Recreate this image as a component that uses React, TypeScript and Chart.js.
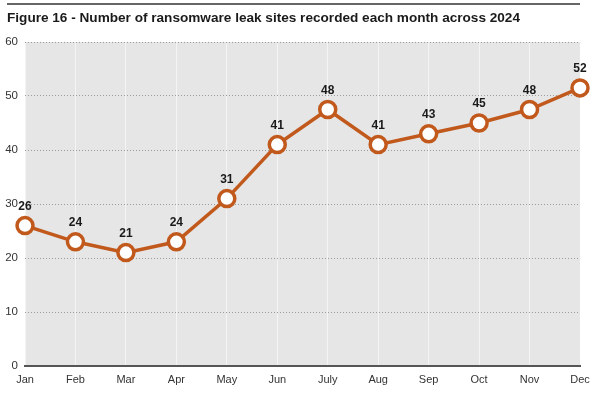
import React, { useEffect, useRef } from "react";
import { Chart, registerables } from "chart.js";

Chart.register(...registerables);

const TITLE = "Figure 16 - Number of ransomware leak sites recorded each month across 2024";
const months = ["Jan", "Feb", "Mar", "Apr", "May", "Jun", "July", "Aug", "Sep", "Oct", "Nov", "Dec"];
// plotted positions
const plotted = [26, 23, 21, 23, 31, 41, 47.5, 41, 43, 45, 47.5, 51.5];
// values printed above each point
const labels = [26, 24, 21, 24, 31, 41, 48, 41, 43, 45, 48, 52];
const yTicks = [0, 10, 20, 30, 40, 50, 60];

const ORANGE = "#c2591c";
const FONT = "'Liberation Sans', Arial, sans-serif";

const decorPlugin = {
  id: "decor",
  beforeDraw(chart: any) {
    const { ctx, chartArea } = chart;
    ctx.save();
    ctx.fillStyle = "#ffffff";
    ctx.fillRect(0, 0, chart.width, chart.height);
    ctx.fillStyle = "#e6e6e6";
    ctx.fillRect(chartArea.left, chartArea.top, chartArea.right - chartArea.left, chartArea.bottom - chartArea.top);
    // top rule
    ctx.strokeStyle = "#333333";
    ctx.lineWidth = 1.5;
    ctx.beginPath();
    ctx.moveTo(7, 4);
    ctx.lineTo(580, 4);
    ctx.stroke();
    // title
    ctx.fillStyle = "#1a1a1a";
    ctx.font = `bold 13.6px ${FONT}`;
    ctx.textAlign = "left";
    ctx.textBaseline = "alphabetic";
    ctx.fillText(TITLE, 7, 22);
    ctx.restore();
  },
  afterDatasetsDraw(chart: any) {
    const { ctx } = chart;
    const meta = chart.getDatasetMeta(0);
    ctx.save();
    ctx.fillStyle = "#1a1a1a";
    ctx.font = `bold 12px ${FONT}`;
    ctx.textAlign = "center";
    ctx.textBaseline = "middle";
    meta.data.forEach((pt: any, i: number) => {
      ctx.fillText(String(labels[i]), pt.x, pt.y - 19);
    });
    ctx.restore();
  },
};

export default function App() {
  const ref = useRef<HTMLCanvasElement | null>(null);
  useEffect(() => {
    document.body.style.margin = "0";
    const chart = new Chart(ref.current as HTMLCanvasElement, {
      type: "line",
      data: {
        labels: months,
        datasets: [
          {
            data: plotted,
            borderColor: ORANGE,
            borderWidth: 3.5,
            pointRadius: 8,
            pointBorderWidth: 3.5,
            pointBackgroundColor: "#ffffff",
            pointBorderColor: ORANGE,
            tension: 0,
            clip: false as any,
          },
        ],
      },
      options: {
        animation: false,
        responsive: false,
        maintainAspectRatio: false,
        layout: { padding: { top: 42, right: 20, left: 0, bottom: 0 } },
        plugins: { legend: { display: false }, tooltip: { enabled: false }, title: { display: false } },
        scales: {
          x: {
            offset: false,
            grid: { color: "rgba(255,255,255,0.55)", lineWidth: 1, drawTicks: false },
            border: { display: true, color: "#555555", width: 2 },
            ticks: { color: "#333333", font: { family: FONT, size: 11 }, padding: 7, maxRotation: 0, autoSkip: false },
            afterFit: (s: any) => { s.height = 31; },
          },
          y: {
            min: 0,
            max: 60,
            afterBuildTicks: (s: any) => { s.ticks = yTicks.map((v) => ({ value: v })); },
            grid: { color: "#9a9a9a", lineWidth: 1, drawTicks: false },
            border: { display: false, dash: [1, 2] },
            ticks: { color: "#333333", font: { family: FONT, size: 11.5 }, padding: 7 },
            afterFit: (s: any) => { s.width = 25; },
          },
        },
      },
      plugins: [decorPlugin],
    });
    return () => chart.destroy();
  }, []);
  return <canvas ref={ref} width={600} height={397} style={{ display: "block" }} />;
}
